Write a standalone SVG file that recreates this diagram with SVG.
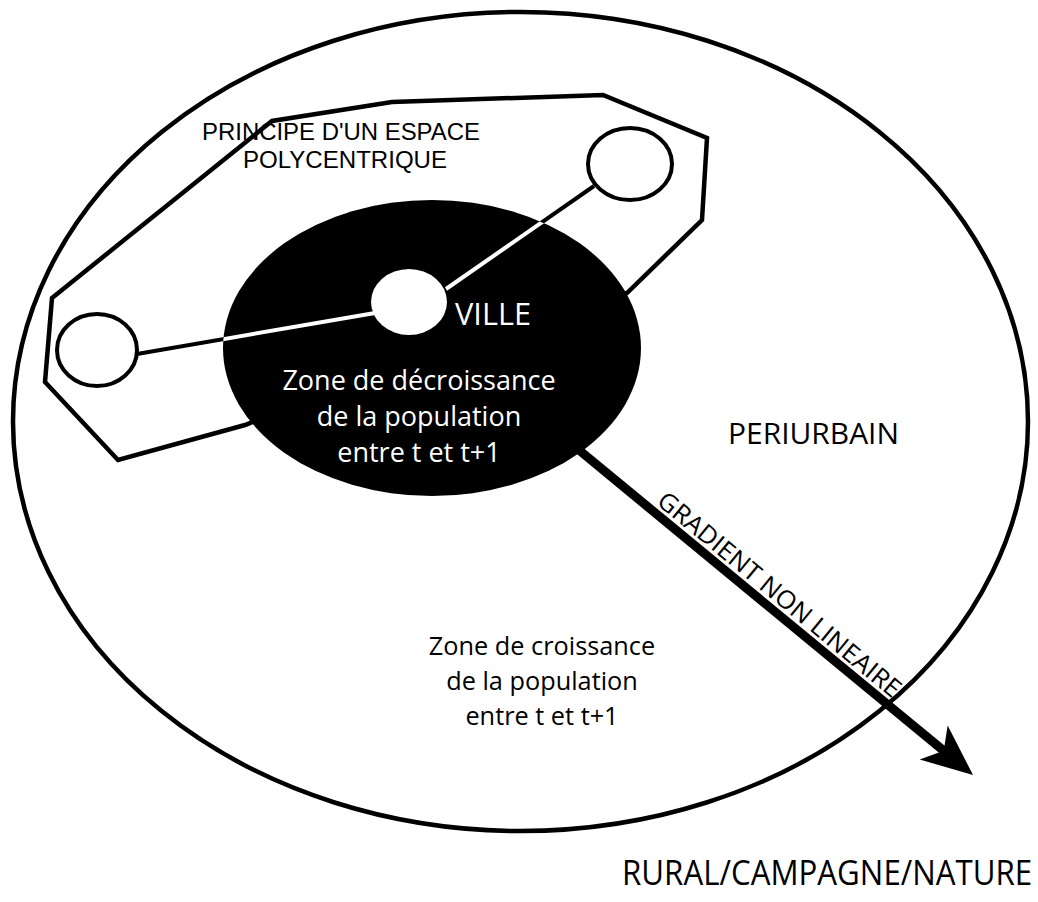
<svg xmlns="http://www.w3.org/2000/svg" width="1038" height="902" viewBox="0 0 1038 902">
<style>
.ln{fill:none;stroke:#000;stroke-width:4.5;stroke-linejoin:miter}
.node{fill:#fff;stroke:#000;stroke-width:4}
.link{stroke-width:4;fill:none}
.t{font-family:"Open Sans","Liberation Sans",sans-serif;fill:#000}
.w{fill:#fff}
</style>
<defs>
<clipPath id="villeClip"><ellipse cx="432" cy="348" rx="209" ry="148"/></clipPath>
<marker id="head" markerUnits="userSpaceOnUse" viewBox="0 -22 51 44" markerWidth="51" markerHeight="44" refX="13" refY="0" orient="auto" overflow="visible">
<path d="M0,-22 L51,0 L0,22 L13,0 Z" fill="#000"/>
</marker>
</defs>
<rect width="1038" height="902" fill="#fff"/>

<g id="periurbain">
<ellipse class="ln" cx="520.5" cy="421.5" rx="507.5" ry="409.5"/>
</g>

<g id="espace-polycentrique">
<path class="ln" d="M52,298 L272,121 L392,102 L603,95 L707,138 L702,220 L627,293 L430,350 L245,425 L118,460 L45,382 Z"/>
</g>

<g id="ville-zone">
<ellipse cx="432" cy="348" rx="209" ry="148" fill="#000"/>
</g>

<g id="connectors">
<g stroke="#000">
<line class="link" x1="137" y1="354" x2="375" y2="313"/>
<line class="link" x1="446" y1="289" x2="594" y2="186"/>
</g>
<g stroke="#fff" clip-path="url(#villeClip)">
<line class="link" x1="137" y1="354" x2="375" y2="313"/>
<line class="link" x1="446" y1="289" x2="594" y2="186"/>
</g>
<line id="gradient" x1="560" y1="434.4" x2="943.7" y2="750.8" stroke="#000" stroke-width="9" marker-end="url(#head)"/>
</g>

<g id="pole-ouest"><ellipse class="node" cx="97" cy="350" rx="40" ry="36"/></g>
<g id="pole-nord-est"><ellipse class="node" cx="630" cy="164" rx="42" ry="36"/></g>
<g id="pole-centre"><ellipse cx="409" cy="302" rx="38" ry="33" fill="#fff"/></g>

<g id="label-polycentrique" font-family="'Liberation Sans',Arial,sans-serif" font-size="23.5" fill="#000">
<text x="202" y="140" textLength="278" lengthAdjust="spacingAndGlyphs">PRINCIPE D'UN ESPACE</text>
<text x="243" y="168" textLength="204" lengthAdjust="spacingAndGlyphs">POLYCENTRIQUE</text>
</g>

<g id="label-ville" class="t">
<text x="455" y="325" font-size="31" textLength="76" lengthAdjust="spacingAndGlyphs" class="w">VILLE</text>
<g font-size="27" text-anchor="middle">
<text x="419" y="390" class="w">Zone de décroissance</text>
<text x="419" y="426" class="w">de la population</text>
<text x="419" y="462" class="w">entre t et t+1</text>
</g>
</g>

<g id="label-periurbain" class="t">
<text x="728" y="444" font-size="30" textLength="171" lengthAdjust="spacingAndGlyphs">PERIURBAIN</text>
<g font-size="25.3" text-anchor="middle">
<text x="542" y="655">Zone de croissance</text>
<text x="542" y="690">de la population</text>
<text x="542" y="725">entre t et t+1</text>
</g>
</g>

<g id="label-gradient" class="t">
<text transform="translate(655.6,503.5) rotate(39.5)" font-size="25" textLength="307" lengthAdjust="spacingAndGlyphs">GRADIENT NON LINEAIRE</text>
</g>

<g id="label-rural" class="t">
<text transform="translate(622,885) scale(0.92,1)" font-size="34">RURAL/CAMPAGNE/NATURE</text>
</g>
</svg>
